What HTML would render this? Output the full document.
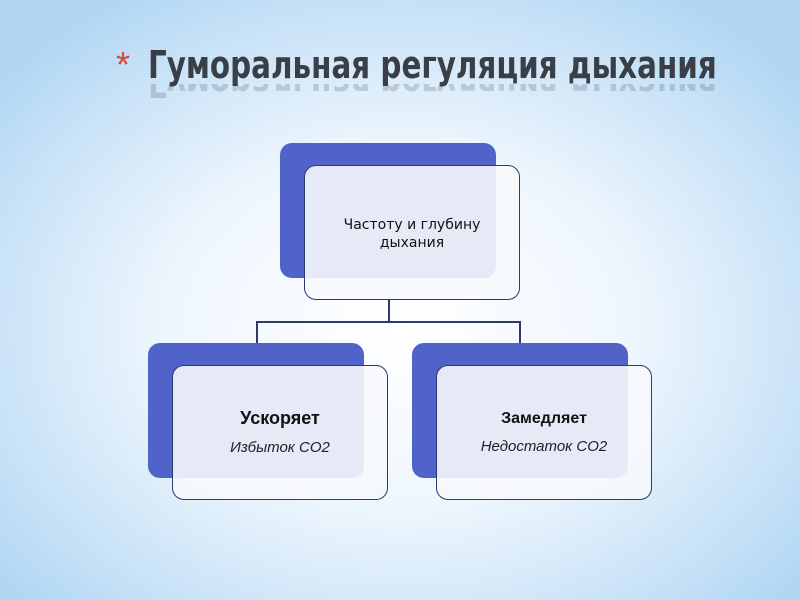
<!DOCTYPE html>
<html><head><meta charset="utf-8"><style>
body{margin:0;width:800px;height:600px;overflow:hidden;position:relative;font-family:"Liberation Sans","DejaVu Sans",sans-serif;
background:radial-gradient(ellipse 520px 400px at 400px 330px,#ffffff 0%,#eef6fd 45%,#c8e2f7 80%,#b0d6f3 100%);}
.t{position:absolute;left:148px;top:46px;font-size:38px;color:#3a3f47;white-space:nowrap;font-family:"DejaVu Sans Condensed","DejaVu Sans",sans-serif;font-weight:bold;transform-origin:0 0;transform:scaleX(0.86);line-height:1}
.r{position:absolute;left:148px;top:84px;height:18px;overflow:hidden;opacity:.2;transform-origin:0 0;transform:scaleX(0.86)}
.r div{font-size:38px;color:#3a3f47;white-space:nowrap;font-family:"DejaVu Sans Condensed","DejaVu Sans",sans-serif;font-weight:bold;transform:scaleY(-1);line-height:1;margin-top:-20px}
.ast{position:absolute;left:116px;top:44px;font-size:36px;color:#d24a3a}
.b{position:absolute;width:216px;height:135px;border-radius:12px;background:#4f63c9}
.w{position:absolute;width:214px;height:133px;border-radius:12px;border:1.5px solid #2c3a6e;background:rgba(246,248,252,0.9);text-align:center;color:#111}
.l{position:absolute;background:#2c3a6e}
</style></head><body>
<div class="ast">*</div>
<div class="t">Гуморальная регуляция дыхания</div>
<div class="r"><div>Гуморальная регуляция дыхания</div></div>
<div class="b" style="left:280px;top:143px"></div>
<div class="w" style="left:304px;top:165px"><div style="position:absolute;left:0;right:0;top:50px;line-height:18px;font-family:'DejaVu Sans',sans-serif;font-size:14px">Частоту и глубину<br>дыхания</div></div>
<div class="l" style="left:388px;top:300px;width:1.5px;height:22px"></div>
<div class="l" style="left:256px;top:321px;width:265px;height:1.5px"></div>
<div class="l" style="left:256px;top:321px;width:1.5px;height:22px"></div>
<div class="l" style="left:519px;top:321px;width:1.5px;height:22px"></div>
<div class="b" style="left:148px;top:343px"></div>
<div class="w" style="left:172px;top:365px"><div style="position:absolute;left:0;right:0;top:42px;font-size:18px;font-weight:bold">Ускоряет</div><div style="position:absolute;left:0;right:0;top:73px;font-size:15px;font-style:italic;color:#222">Избыток CO2</div></div>
<div class="b" style="left:412px;top:343px"></div>
<div class="w" style="left:436px;top:365px"><div style="position:absolute;left:0;right:0;top:44px;font-size:16px;font-weight:bold">Замедляет</div><div style="position:absolute;left:0;right:0;top:72px;font-size:15px;font-style:italic;color:#222">Недостаток CO2</div></div>
</body></html>
